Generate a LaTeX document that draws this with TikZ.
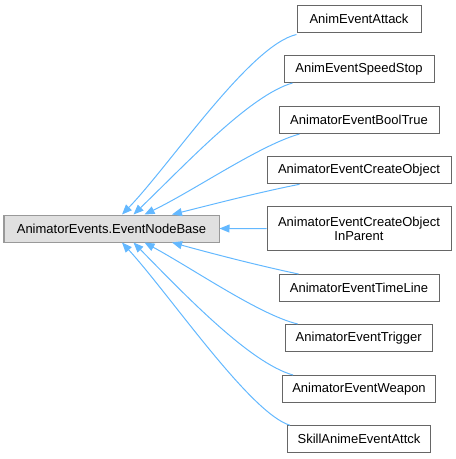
\documentclass[tikz,border=0pt]{standalone}
\usepackage{fontspec}
\setmainfont{Liberation Sans}
\usetikzlibrary{arrows.meta}
\definecolor{edgeblue}{HTML}{63B8FF}
\definecolor{boxgray}{HTML}{666666}
\definecolor{basegray}{HTML}{999999}
\definecolor{basefill}{HTML}{E0E0E0}
\begin{document}
\begin{tikzpicture}[x=1pt,y=-1pt,
  every node/.style={font=\fontsize{13}{15}\selectfont, inner sep=0pt, align=center},
  classbox/.style={draw=boxgray, line width=1pt, fill=white, minimum height=27pt},
  basebox/.style={draw=basegray, line width=1pt, fill=basefill, minimum height=27pt},
  inh/.style={draw=edgeblue, line width=1pt, -{Triangle[length=10pt,width=8pt]}, fill=none, shorten >=0pt}]
\useasboundingbox (0,0) rectangle (456,459);
\node[basebox, minimum width=215pt] (base) at (111.5,228.5) {AnimatorEvents.EventNodeBase};
\node[classbox, minimum width=124pt] (c1) at (359,18.5) {AnimEventAttack};
\node[classbox, minimum width=150pt] (c2) at (359,69) {AnimEventSpeedStop};
\node[classbox, minimum width=160pt] (c3) at (359,120) {AnimatorEventBoolTrue};
\node[classbox, minimum width=184pt] (c4) at (359,170.3) {AnimatorEventCreateObject};
\node[classbox, minimum width=184pt, minimum height=44pt] (c5) at (359,228.7) {AnimatorEventCreateObject\\[-1pt]InParent};
\node[classbox, minimum width=160pt] (c6) at (359,288) {AnimatorEventTimeLine};
\node[classbox, minimum width=147pt] (c7) at (358.7,338) {AnimatorEventTrigger};
\node[classbox, minimum width=153pt] (c8) at (359,389) {AnimatorEventWeapon};
\node[classbox, minimum width=143pt] (c9) at (359,439.3) {SkillAnimeEventAttck};
\coordinate (s1) at ([yshift=-2pt]c1.south west);
\coordinate (s2) at ([xshift=9pt]c2.south west);
\coordinate (s3) at ([xshift=21pt]c3.south west);
\coordinate (s4) at ([xshift=33pt]c4.south west);
\coordinate (s6) at ([xshift=20pt]c6.north west);
\coordinate (s7) at ([xshift=13pt]c7.north west);
\coordinate (s8) at ([xshift=11pt]c8.north west);
\coordinate (s9) at ([xshift=3pt]c9.north west);
\draw[inh] (s1) .. controls (250,45) and (170,165) .. ([xshift=10.5pt]base.north);
\draw[inh] (s2) .. controls (250,95) and (185,165) .. ([xshift=22pt]base.north);
\draw[inh] (s3) .. controls (260,145) and (195,190) .. ([xshift=33pt]base.north);
\draw[inh] (s4) .. controls (260,192) and (210,205) .. ([xshift=60.5pt]base.north);
\draw[inh] (c5.west) -- (base.east);
\draw[inh] (s6) .. controls (260,266) and (210,253) .. ([xshift=60.5pt]base.south);
\draw[inh] (s7) .. controls (260,315) and (195,270) .. ([xshift=33pt]base.south);
\draw[inh] (s8) .. controls (250,363) and (185,295) .. ([xshift=22pt]base.south);
\draw[inh] (s9) .. controls (250,413) and (170,295) .. ([xshift=10.5pt]base.south);
\end{tikzpicture}
\end{document}
